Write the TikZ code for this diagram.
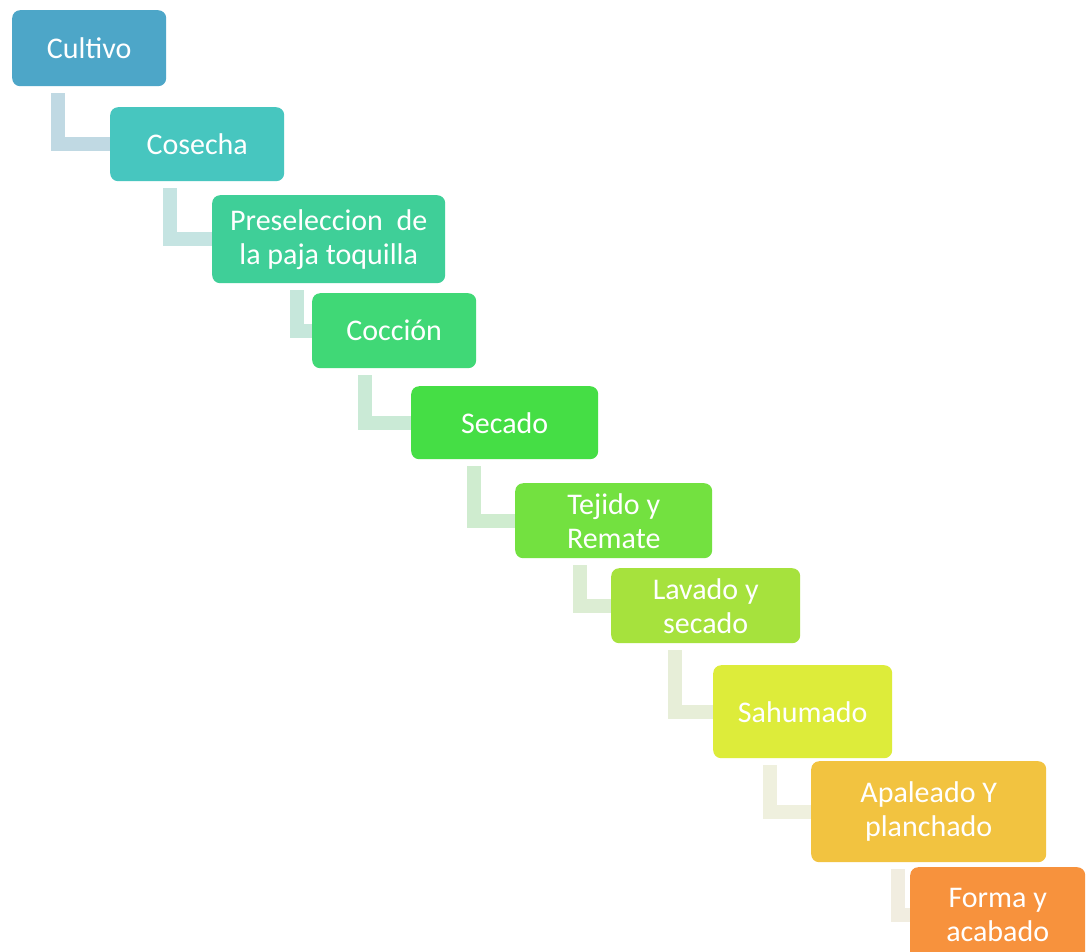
\documentclass[tikz,border=0pt]{standalone}
\usepackage{fontspec}
\setmainfont{Carlito}
\definecolor{c1}{HTML}{4DA6C8}
\definecolor{c2}{HTML}{47C6BF}
\definecolor{c3}{HTML}{3FCF98}
\definecolor{c4}{HTML}{40D876}
\definecolor{c5}{HTML}{45DE45}
\definecolor{c6}{HTML}{73E140}
\definecolor{c7}{HTML}{A6E23D}
\definecolor{c8}{HTML}{DDEC3A}
\definecolor{c9}{HTML}{F2C340}
\definecolor{c10}{HTML}{F7923D}
\tikzset{
	stepbox/.style={rounded corners=8pt, text=white, align=center, inner sep=2pt, anchor=north west, font=\fontsize{30}{34}\selectfont},
	link/.style={line width=14pt}
}
\begin{document}
\begin{tikzpicture}[x=1pt, y=-1pt]
	\useasboundingbox (0,0) rectangle (1086,951);
	\fill[white] (0,0) rectangle (1086,951);
	
	\foreach \i/\x/\y/\w/\h/\t in {1/12/10/154/76/{Cultivo}, 2/110/107/174/74/{Cosecha}, 3/212/195/233/88/{Preseleccion~~de\\la paja toquilla}, 4/312/293/164/75/{Cocción}, 5/411/386/187/73/{Secado}, 6/515/483/197/75/{Tejido y\\Remate}, 7/611/568/189/75/{Lavado y\\secado}, 8/713/665/179/93/{Sahumado}, 9/811/761/235/101/{Apaleado Y\\planchado}, 10/910/867/175/96/{Forma y\\acabado}}
	{
		\node[stepbox, fill=c\i, minimum width=\w pt, minimum height=\h pt] (s\i) at (\x,\y) {\t};
	}
	\foreach \a/\b/\d/\k in {1/2/46/30, 2/3/60/26, 3/4/85/24, 4/5/53/22, 5/6/63/20, 6/7/65/17, 7/8/64/14, 8/9/57/11, 9/10/87/10}
	{
		\draw[link, c\a!\k!white!95!black] ([xshift=\d pt, yshift=-7pt]s\a.south west) |- (s\b.west);
	}
\end{tikzpicture}
\end{document}
